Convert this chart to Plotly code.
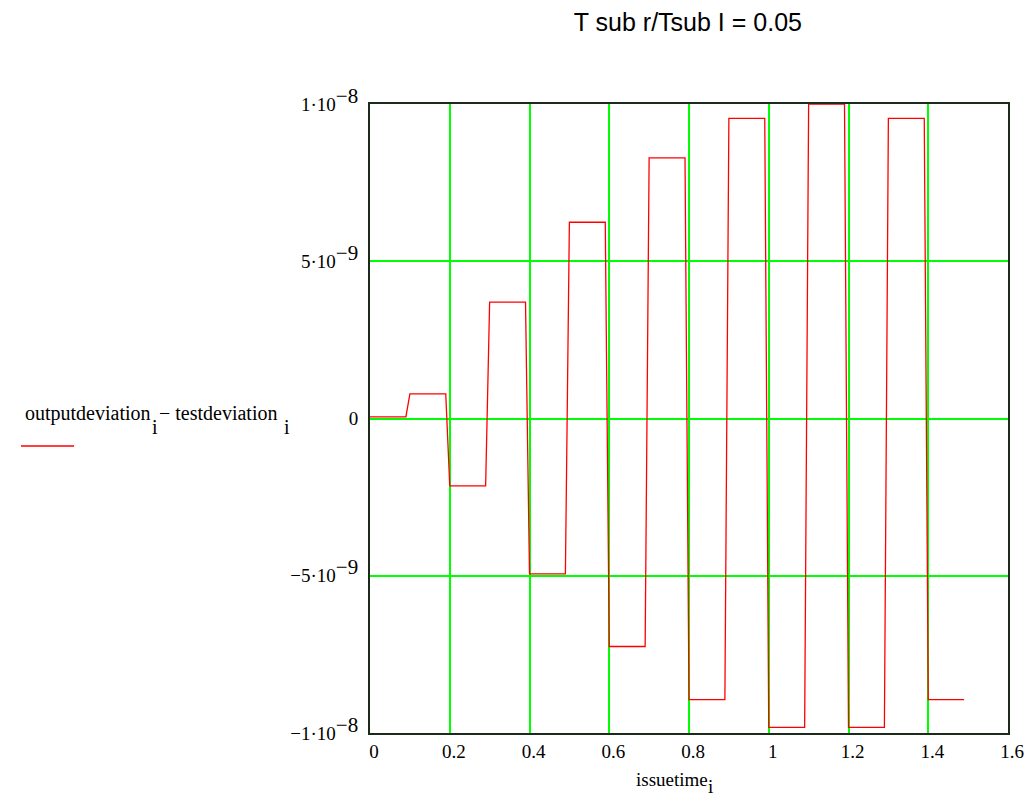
import plotly.graph_objects as go

# corner points of the stepped deviation trace
issuetime = [0.00, 0.09, 0.10, 0.19, 0.20, 0.29, 0.30, 0.39, 0.40, 0.49,
             0.50, 0.59, 0.60, 0.69, 0.70, 0.79, 0.80, 0.89, 0.90, 0.99,
             1.00, 1.09, 1.10, 1.19, 1.20, 1.29, 1.30, 1.39, 1.40, 1.49]
deviation = [0.05e-9, 0.05e-9, 0.78e-9, 0.78e-9, -2.14e-9, -2.14e-9,
             3.70e-9, 3.70e-9, -4.94e-9, -4.94e-9, 6.24e-9, 6.24e-9,
             -7.25e-9, -7.25e-9, 8.29e-9, 8.29e-9, -8.94e-9, -8.94e-9,
             9.54e-9, 9.54e-9, -9.82e-9, -9.82e-9, 1.0e-8, 1.0e-8,
             -9.82e-9, -9.82e-9, 9.54e-9, 9.54e-9, -8.94e-9, -8.94e-9]

x_ticks = [0, 0.2, 0.4, 0.6, 0.8, 1.0, 1.2, 1.4, 1.6]
x_ticktext = ["0", "0.2", "0.4", "0.6", "0.8", "1", "1.2", "1.4", "1.6"]
y_ticks = [-1e-8, -5e-9, 0, 5e-9, 1e-8]

SUP = "<sup><span style='font-size:21px'>{}</span></sup>"
y_ticktext = ["\u22121\u00b710" + SUP.format("\u22128"),
              "\u22125\u00b710" + SUP.format("\u22129"),
              "0",
              "5\u00b710" + SUP.format("\u22129"),
              "1\u00b710" + SUP.format("\u22128")]

serif = "Liberation Serif, Times New Roman, serif"

# plot area in pixels (matches the margins below)
L, R, T, B = 370, 1019, 104, 733


def px(x):
    return (x - L) / (R - L)


def py(y):
    return (B - y) / (B - T)


fig = go.Figure()
fig.add_trace(go.Scatter(x=issuetime, y=deviation, mode="lines",
                         line=dict(color="#ff0000", width=1.3),
                         showlegend=False, hoverinfo="skip"))

axis_common = dict(showgrid=True, gridcolor="#00ff00", gridwidth=1.6,
                   zeroline=False, showline=True, mirror=True,
                   linecolor="#1c2a1c", linewidth=2, ticks="",
                   tickfont=dict(family=serif, size=19, color="#000000"))

fig.update_xaxes(range=[0, 1.6], tickvals=x_ticks, ticktext=x_ticktext,
                 ticklabelshift=4, **axis_common)
fig.update_yaxes(range=[-1e-8, 1e-8], tickvals=y_ticks, ticktext=y_ticktext,
                 ticklabelstandoff=6, **axis_common)

fig.update_layout(
    width=1036, height=796,
    margin=dict(l=L, r=1036 - R, t=T, b=796 - B),
    paper_bgcolor="white", plot_bgcolor="white",
    title=dict(text="T sub r/Tsub I = 0.05", x=0.664, xanchor="center",
               y=0.972, yanchor="middle",
               font=dict(family="Liberation Sans, Arial, sans-serif", size=25,
                         color="#000000")),
)


def label(text, x, y, size=19):
    fig.add_annotation(xref="paper", yref="paper", x=px(x), y=py(y),
                       xanchor="left", yanchor="middle", showarrow=False,
                       text=text, font=dict(family=serif, size=size, color="#000000"))


# x-axis title with its subscript
label("issuetime", 639, 779)
label("i", 712, 786)

# legend label with its line sample
label("outputdeviation", 17, 413, 20)
label("i", 146, 427, 20)
label("\u2212 testdeviation", 153, 413, 20)
label("i", 280, 427, 20)
fig.add_shape(type="line", xref="paper", yref="paper",
              x0=px(15), x1=px(69), y0=py(446), y1=py(446),
              line=dict(color="#ff0000", width=1.3))

fig.write_html("out.html")
